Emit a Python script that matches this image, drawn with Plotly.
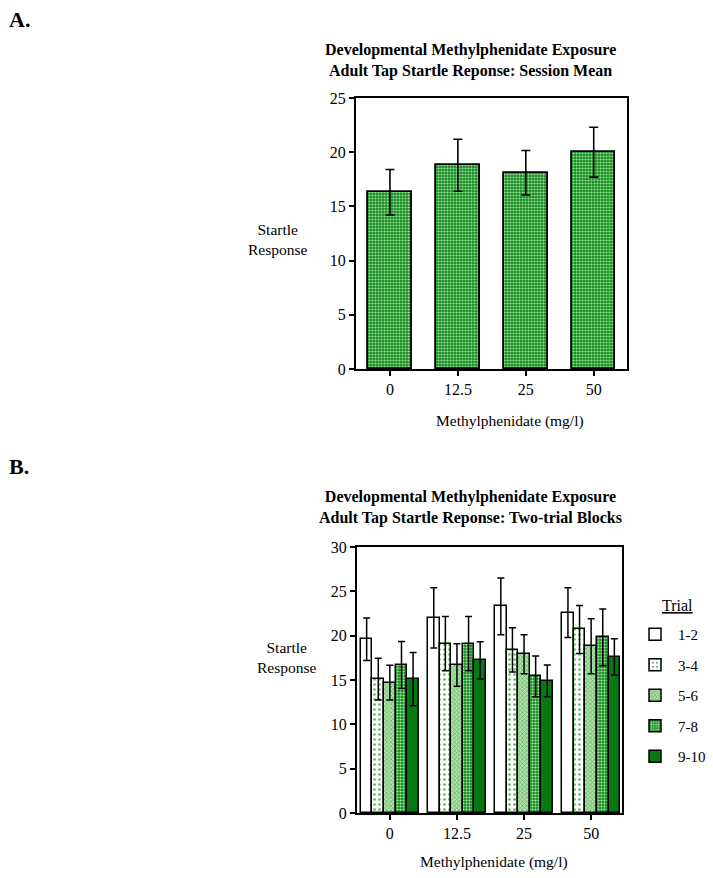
import plotly.graph_objects as go

W, H = 713, 878

# ---------------- data ----------------
doses = ["0", "12.5", "25", "50"]
dose_pos = [0, 1, 2, 3]

# Panel A: session mean
session_mean = [16.3, 18.8, 18.1, 20.0]
session_sem = [2.1, 2.4, 2.05, 2.3]

# Panel B: two-trial blocks
trial_blocks = ["1-2", "3-4", "5-6", "7-8", "9-10"]
block_means = {
    "1-2":  [19.6, 22.0, 23.3, 22.6],
    "3-4":  [15.1, 19.1, 18.4, 20.7],
    "5-6":  [14.7, 16.7, 17.9, 18.8],
    "7-8":  [16.7, 19.1, 15.4, 19.8],
    "9-10": [15.1, 17.2, 14.9, 17.6],
}
block_sems = {
    "1-2":  [2.4, 3.4, 3.2, 2.8],
    "3-4":  [2.35, 3.05, 2.5, 2.7],
    "5-6":  [1.95, 2.4, 2.2, 3.1],
    "7-8":  [2.65, 3.05, 2.3, 3.2],
    "9-10": [3.0, 2.1, 1.8, 2.05],
}

# ---------------- helpers (pixel targets -> paper coords) ----------------
def px(x):
    return x / W

def py(y):
    return 1 - y / H

FONT = "Liberation Serif, Times New Roman, serif"

fig = go.Figure()

# Panel A bars
fig.add_trace(go.Bar(
    x=dose_pos, y=session_mean, width=0.64,
    marker=dict(color="#168a24",
                line=dict(color="black", width=1.8),
                pattern=dict(shape=".", fgcolor="#9ae094", bgcolor="#168a24",
                             size=3, solidity=0.4, fillmode="replace")),
    error_y=dict(type="data", array=session_sem, color="black",
                 thickness=1.6, width=4.5),
    showlegend=False, xaxis="x", yaxis="y",
))

# Panel B bars
styles = {
    "1-2":  dict(color="white", pattern=None),
    "3-4":  dict(color="white", pattern=dict(shape=".", fgcolor="#5cb85c", bgcolor="white",
                                             size=5, solidity=0.22, fillmode="replace")),
    "5-6":  dict(color="#9fd89a", pattern=dict(shape="x", fgcolor="#5fb45f", bgcolor="#b2e0ad",
                                               size=3, solidity=0.4, fillmode="replace")),
    "7-8":  dict(color="#168a24", pattern=dict(shape=".", fgcolor="#a8eaa2", bgcolor="#168a24",
                                               size=3, solidity=0.4, fillmode="replace")),
    "9-10": dict(color="#077812", pattern=None),
}
bw = 0.173
for i, blk in enumerate(trial_blocks):
    st = styles[blk]
    marker = dict(color=st["color"], line=dict(color="black", width=1.5))
    if st["pattern"] is not None:
        marker["pattern"] = st["pattern"]
    fig.add_trace(go.Bar(
        x=dose_pos, y=block_means[blk], width=bw, offset=-2.5 * bw + i * bw,
        name=blk, legendgroup=blk, marker=marker,
        error_y=dict(type="data", array=block_sems[blk], color="black",
                     thickness=1.5, width=3.5),
        xaxis="x2", yaxis="y2",
    ))

axis_common = dict(showline=True, linecolor="black", linewidth=2, mirror=True,
                   showgrid=False, zeroline=False, ticks="outside", ticklen=5,
                   tickwidth=1.5, tickcolor="black", automargin=False,
                   tickfont=dict(family=FONT, size=16, color="black"))

fig.update_layout(
    width=W, height=H,
    margin=dict(l=0, r=0, t=0, b=0, pad=0, autoexpand=False),
    paper_bgcolor="white", plot_bgcolor="white",
    font=dict(family=FONT, color="black"),
    xaxis=dict(domain=[px(356), px(627)], range=[-0.5, 3.49],
               tickvals=dose_pos, ticktext=doses, anchor="y", **axis_common),
    yaxis=dict(domain=[py(369), py(98)], range=[0, 25], dtick=5,
               anchor="x", **axis_common),
    xaxis2=dict(domain=[px(357), px(622)], range=[-0.49, 3.46],
                tickvals=dose_pos, ticktext=doses, anchor="y2", **axis_common),
    yaxis2=dict(domain=[py(813), py(547)], range=[0, 30], dtick=5,
                anchor="x2", **axis_common),
    showlegend=True,
    legend=dict(x=px(632), y=py(618), xanchor="left", yanchor="top",
                traceorder="grouped", tracegroupgap=8,
                font=dict(family=FONT, size=15, color="black"),
                bgcolor="rgba(0,0,0,0)", itemwidth=36),
    bargap=0,
)

ann = []
ann.append(dict(text="<b>A.</b>", x=px(7), y=py(19), xanchor="left", yanchor="middle",
                font=dict(family=FONT, size=22)))
ann.append(dict(text="<b>B.</b>", x=px(7), y=py(466), xanchor="left", yanchor="middle",
                font=dict(family=FONT, size=22)))
ann.append(dict(text="<b>Developmental Methylphenidate Exposure<br>Adult Tap Startle Reponse: Session Mean</b>",
                x=px(470), y=py(60), xanchor="center", yanchor="middle",
                font=dict(family=FONT, size=16)))
ann.append(dict(text="<b>Developmental Methylphenidate Exposure<br>Adult Tap Startle Reponse: Two-trial Blocks</b>",
                x=px(470), y=py(507), xanchor="center", yanchor="middle",
                font=dict(family=FONT, size=16)))
ann.append(dict(text="Startle<br>Response", x=px(278), y=py(240), xanchor="center",
                yanchor="middle", font=dict(family=FONT, size=15.5)))
ann.append(dict(text="Startle<br>Response", x=px(287), y=py(657), xanchor="center",
                yanchor="middle", font=dict(family=FONT, size=15.5)))
ann.append(dict(text="Methylphenidate (mg/l)", x=px(434), y=py(421), xanchor="left",
                yanchor="middle", font=dict(family=FONT, size=15.5)))
ann.append(dict(text="Methylphenidate (mg/l)", x=px(418), y=py(862), xanchor="left",
                yanchor="middle", font=dict(family=FONT, size=15.5)))
ann.append(dict(text="<u>Trial</u>", x=px(677), y=py(605), xanchor="center",
                yanchor="middle", font=dict(family=FONT, size=16)))
for a in ann:
    a.update(xref="paper", yref="paper", showarrow=False)
fig.update_layout(annotations=ann)

fig.write_html("out.html", config={"displayModeBar": False},
               post_script="document.body.style.margin='0';document.body.style.overflow='hidden';")
